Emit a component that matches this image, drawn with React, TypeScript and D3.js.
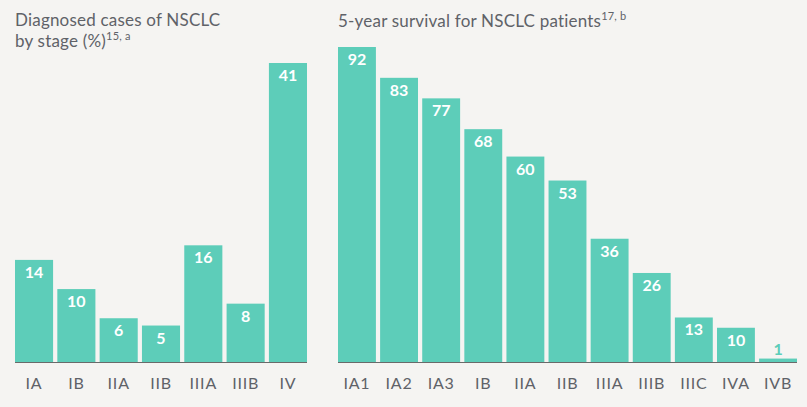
import { scaleBand, scaleLinear } from 'd3';

// left panel: diagnosed cases by stage (%)
const diagStages = ['IA', 'IB', 'IIA', 'IIB', 'IIIA', 'IIIB', 'IV'];
const diagValues = [14, 10, 6, 5, 16, 8, 41];

// right panel: 5-year survival
const survStages = ['IA1', 'IA2', 'IA3', 'IB', 'IIA', 'IIB', 'IIIA', 'IIIB', 'IIIC', 'IVA', 'IVB'];
const survValues = [92, 83, 77, 68, 60, 53, 36, 26, 13, 10, 1];

const W = 807;
const H = 407;
const BASE = 362;
const BAR = '#5dcdb9';
const BG = '#f5f4f2';
const TEXT = '#5f6268';
const FONT = 'Lato, "Open Sans", sans-serif';

function Panel({
  stages,
  values,
  x0,
  x1,
  maxVal,
  topY,
}: {
  stages: string[];
  values: number[];
  x0: number;
  x1: number;
  maxVal: number;
  topY: number;
}) {
  const x = scaleBand<string>().domain(stages).range([x0, x1]).paddingInner(0.1).paddingOuter(0);
  const y = scaleLinear().domain([0, maxVal]).range([BASE, topY]);

  return (
    <g>
      {stages.map((s, i) => {
        const v = values[i];
        const bx = x(s) ?? 0;
        const top = y(v);
        const cx = bx + x.bandwidth() / 2;
        const inside = BASE - top > 24;
        return (
          <g key={s}>
            <rect x={bx} y={top} width={x.bandwidth()} height={BASE - top} fill={BAR} />
            <text
              x={cx}
              y={inside ? top + 18 : top - 4}
              textAnchor="middle"
              fontSize={16}
              fontWeight={700}
              fill={inside ? '#ffffff' : BAR}
            >
              {v}
            </text>
            <text
              x={cx}
              y={BASE + 27}
              textAnchor="middle"
              fontSize={16}
              letterSpacing={0.8}
              fill={TEXT}
            >
              {s}
            </text>
          </g>
        );
      })}
      <line x1={x0} x2={x1} y1={BASE + 0.5} y2={BASE + 0.5} stroke="#6a6a6a" strokeWidth={1.2} />
    </g>
  );
}

export default function App() {
  return (
    <svg
      width={W}
      height={H}
      style={{ position: 'absolute', left: 0, top: 0, background: BG, fontFamily: FONT }}
    >
      <rect width={W} height={H} fill={BG} />
      <text x={15} y={26} fontSize={17} letterSpacing={0.2} fill={TEXT}>
        Diagnosed cases of NSCLC
      </text>
      <text x={15} y={47} fontSize={17} letterSpacing={0.2} fill={TEXT}>
        by stage (%)
        <tspan fontSize={11} dy={-7}>15, a</tspan>
      </text>
      <text x={338} y={27} fontSize={17} letterSpacing={0.2} fill={TEXT}>
        5-year survival for NSCLC patients
        <tspan fontSize={11} dy={-7}>17, b</tspan>
      </text>
      <Panel stages={diagStages} values={diagValues} x0={15} x1={307} maxVal={41} topY={63} />
      <Panel stages={survStages} values={survValues} x0={338} x1={797} maxVal={92} topY={47} />
    </svg>
  );
}
